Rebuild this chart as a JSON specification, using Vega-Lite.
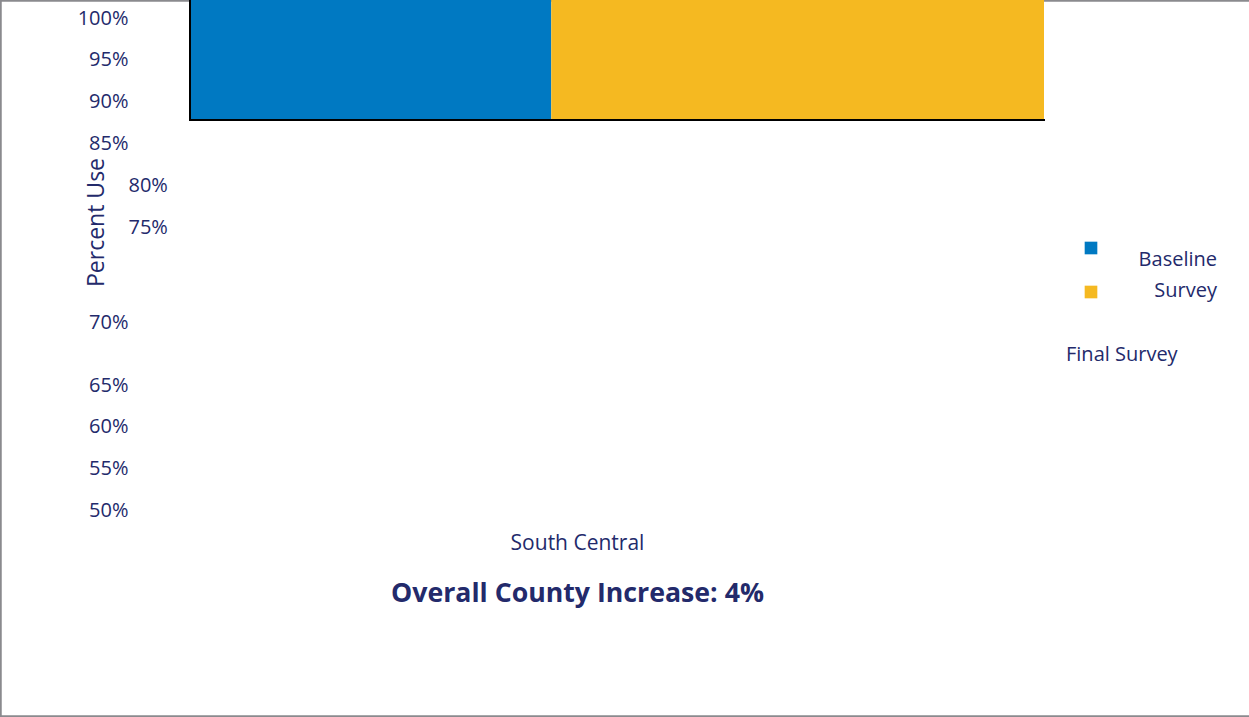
{
  "$schema": "https://vega.github.io/schema/vega-lite/v6.json",
  "width": 1249,
  "height": 717,
  "autosize": {"type": "none"},
  "padding": 0,
  "background": "white",
  "config": {
    "font": "Open Sans",
    "view": {"stroke": "#8a8a8e", "strokeWidth": 3.5, "strokeDash": [1249, 717, 1966, 0]}
  },
  "title": {
    "text": "Overall County Increase: 4%",
    "orient": "bottom",
    "anchor": "middle",
    "frame": "group",
    "dx": -47,
    "offset": -123,
    "baseline": "middle",
    "fontSize": 26.7,
    "fontWeight": "bold",
    "color": "#232a6b"
  },
  "data": {
    "values": [
      {"region": "South Central", "series": "Baseline Survey", "share": 42.3, "low": 87.8, "high": 104},
      {"region": "South Central", "series": "Final Survey", "share": 57.7, "low": 87.8, "high": 104}
    ]
  },
  "transform": [
    {"stack": "share", "groupby": ["region"], "sort": [{"field": "series"}], "as": ["x0", "x1"]}
  ],
  "layer": [
    {
      "mark": {"type": "bar", "clip": true},
      "encoding": {
        "x": {
          "field": "x0",
          "type": "quantitative",
          "scale": {"domain": [0, 100], "range": [190, 1044], "nice": false, "zero": false},
          "axis": {
            "orient": "bottom",
            "labels": false,
            "ticks": false,
            "domain": false,
            "grid": false,
            "title": "South Central",
            "titleX": 577,
            "titleY": -174,
            "titleAlign": "center",
            "titleBaseline": "middle",
            "titleFontSize": 21,
            "titleFontWeight": "normal",
            "titleColor": "#232a6b"
          }
        },
        "x2": {"field": "x1"},
        "y": {
          "field": "high",
          "type": "quantitative",
          "scale": {"domain": [50, 65, 70, 75, 100], "range": [510, 385, 322, 227, 18], "nice": false, "zero": false},
          "axis": {
            "orient": "left",
            "offset": -190,
            "values": [100, 95, 90, 85, 80, 75, 70, 65, 60, 55, 50],
            "labelExpr": "datum.value + '%'",
            "domain": false,
            "ticks": false,
            "grid": false,
            "labelFontSize": 20,
            "labelColor": "#232a6b",
            "labelPadding": 62,
            "labelBaseline": "middle",
            "labelAlign": {"condition": {"test": "datum.value == 80 || datum.value == 75", "value": "left"}, "value": "right"},
            "labelOverlap": false,
            "labelFlush": false,
            "labelBound": false,
            "title": "Percent Use",
            "titleX": -94,
            "titleY": 222,
            "titleAngle": -90,
            "titleAlign": "center",
            "titleBaseline": "middle",
            "titleFontSize": 23,
            "titleFontWeight": "normal",
            "titleColor": "#232a6b"
          }
        },
        "y2": {"field": "low"},
        "color": {
          "field": "series",
          "type": "nominal",
          "scale": {"domain": ["Baseline Survey", "Final Survey"], "range": ["#0079c2", "#f5b921"]},
          "legend": {
            "orient": "none",
            "legendX": 1066,
            "legendY": 238,
            "title": "Final Survey",
            "titleOrient": "bottom",
            "titleAnchor": "start",
            "titleAlign": "left",
            "titleFontSize": 20,
            "titleFontWeight": "normal",
            "titleColor": "#232a6b",
            "titlePadding": 44,
            "padding": 0,
            "symbolOffset": 15,
            "symbolType": "square",
            "symbolSize": 160,
            "symbolStrokeWidth": 0,
            "labelFontSize": 20,
            "labelColor": "#232a6b",
            "labelAlign": "right",
            "labelBaseline": "middle",
            "labelOffset": 116,
            "labelLimit": 0,
            "rowPadding": 11,
            "labelExpr": "datum.label == 'Baseline Survey' ? 'Baseline' : 'Survey'",
            "encode": {
              "labels": {"update": {"dy": {"signal": "datum.index === 0 ? 12 : -1"}}}
            }
          }
        }
      }
    },
    {
      "mark": {"type": "rule", "color": "black", "strokeWidth": 2, "strokeCap": "square", "clip": true},
      "encoding": {
        "x": {"aggregate": "min", "field": "x0", "type": "quantitative", "title": "South Central"},
        "x2": {"aggregate": "max", "field": "x1"},
        "y": {"aggregate": "min", "field": "low", "type": "quantitative", "title": "Percent Use"}
      }
    },
    {
      "mark": {"type": "rule", "color": "black", "strokeWidth": 2, "strokeCap": "square", "clip": true},
      "encoding": {
        "x": {"aggregate": "min", "field": "x0", "type": "quantitative", "title": "South Central"},
        "y": {"aggregate": "min", "field": "low", "type": "quantitative", "title": "Percent Use"},
        "y2": {"aggregate": "max", "field": "high"}
      }
    }
  ]
}
